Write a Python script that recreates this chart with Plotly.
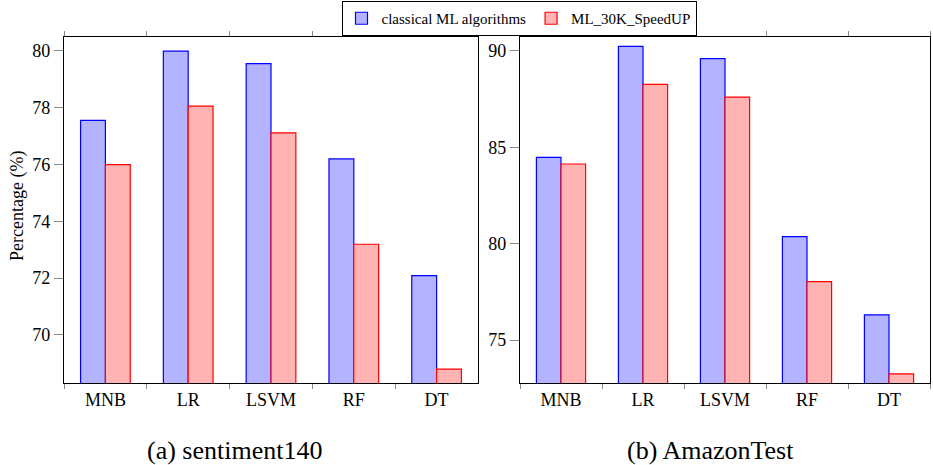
import plotly.graph_objects as go

categories = ["MNB", "LR", "LSVM", "RF", "DT"]
series_names = ["classical ML algorithms", "ML_30K_SpeedUP"]

sent_classical = [77.55, 79.98, 79.54, 76.19, 72.09]
sent_speedup = [75.99, 78.05, 77.11, 73.19, 68.80]
amz_classical = [84.47, 90.23, 89.59, 80.36, 76.31]
amz_speedup = [84.13, 88.26, 87.60, 78.03, 73.25]

sent_ticks = [70, 72, 74, 76, 78, 80]
amz_ticks = [75, 80, 85, 90]

W, H = 933, 465
FONT = "Liberation Serif"
fills = ["rgb(179,179,255)", "rgb(255,179,179)"]
edges = ["rgb(0,0,255)", "rgb(255,0,0)"]

fig = go.Figure()

for i, vals in enumerate([sent_classical, sent_speedup]):
    fig.add_trace(go.Bar(
        x=categories, y=vals, name=series_names[i], legendgroup=series_names[i],
        marker=dict(color=fills[i], line=dict(color=edges[i], width=1.2)),
        xaxis="x", yaxis="y", showlegend=True))
for i, vals in enumerate([amz_classical, amz_speedup]):
    fig.add_trace(go.Bar(
        x=categories, y=vals, name=series_names[i], legendgroup=series_names[i],
        marker=dict(color=fills[i], line=dict(color=edges[i], width=1.2)),
        xaxis="x2", yaxis="y2", showlegend=False))

ytop = 1 - 36.7 / H
ybot = 1 - 383.3 / H

xcommon = dict(type="category", range=[-0.5, 4.5], tickson="boundaries",
               ticks="outside", ticklen=5, tickcolor="#888", tickwidth=1,
               showline=True, linecolor="black", linewidth=1.2, mirror="allticks",
               showgrid=False, automargin=False,
               tickfont=dict(family=FONT, size=18, color="black"))
ycommon = dict(ticks="outside", ticklen=9, tickcolor="#888", tickwidth=1,
               showline=True, linecolor="black", linewidth=1.2, mirror=True,
               showgrid=False, zeroline=False, automargin=False,
               tickfont=dict(family=FONT, size=18, color="black"))
ymirror = dict(ticks="inside", ticklen=6, tickcolor="#888", tickwidth=1,
               showline=False, showgrid=False, zeroline=False, showticklabels=False,
               side="right", automargin=False)

fig.update_layout(
    width=W, height=H,
    margin=dict(l=0, r=0, t=0, b=0, autoexpand=False),
    paper_bgcolor="white", plot_bgcolor="white",
    barmode="group", bargap=0.4, bargroupgap=0,
    xaxis=dict(domain=[64 / W, 478 / W], anchor="y", **xcommon),
    xaxis2=dict(domain=[520 / W, 930 / W], anchor="y2", **xcommon),
    yaxis=dict(domain=[ybot, ytop], anchor="x", range=[68.30, 80.49],
               tickmode="array", tickvals=sent_ticks, **ycommon),
    yaxis2=dict(domain=[ybot, ytop], anchor="x2", range=[72.76, 90.73],
                tickmode="array", tickvals=amz_ticks, **ycommon),
    yaxis3=dict(overlaying="y", anchor="x", range=[68.30, 80.49],
                tickmode="array", tickvals=sent_ticks, **ymirror),
    yaxis4=dict(overlaying="y2", anchor="x2", range=[72.76, 90.73],
                tickmode="array", tickvals=amz_ticks, **ymirror),
    legend=dict(orientation="h", x=519 / W, xanchor="center", y=1 - 1 / H, yanchor="top",
                bgcolor="white", bordercolor="black", borderwidth=1,
                font=dict(family=FONT, size=15, color="black"),
                itemwidth=30, tracegroupgap=0),
    annotations=[
        dict(text="Percentage (%)", textangle=-90, x=17 / W, y=1 - 206 / H,
             xref="paper", yref="paper", xanchor="center", yanchor="middle",
             showarrow=False, font=dict(family=FONT, size=18, color="black")),
        dict(text="(a) sentiment140", x=234 / W, y=1 - 450 / H,
             xref="paper", yref="paper", xanchor="center", yanchor="middle",
             showarrow=False, font=dict(family=FONT, size=26, color="black")),
        dict(text="(b) AmazonTest", x=710 / W, y=1 - 450 / H,
             xref="paper", yref="paper", xanchor="center", yanchor="middle",
             showarrow=False, font=dict(family=FONT, size=26, color="black")),
    ],
)

fig.write_html("out.html",
               config={"displayModeBar": False},
               post_script="document.body.style.margin='0';document.body.style.overflow='hidden';")
